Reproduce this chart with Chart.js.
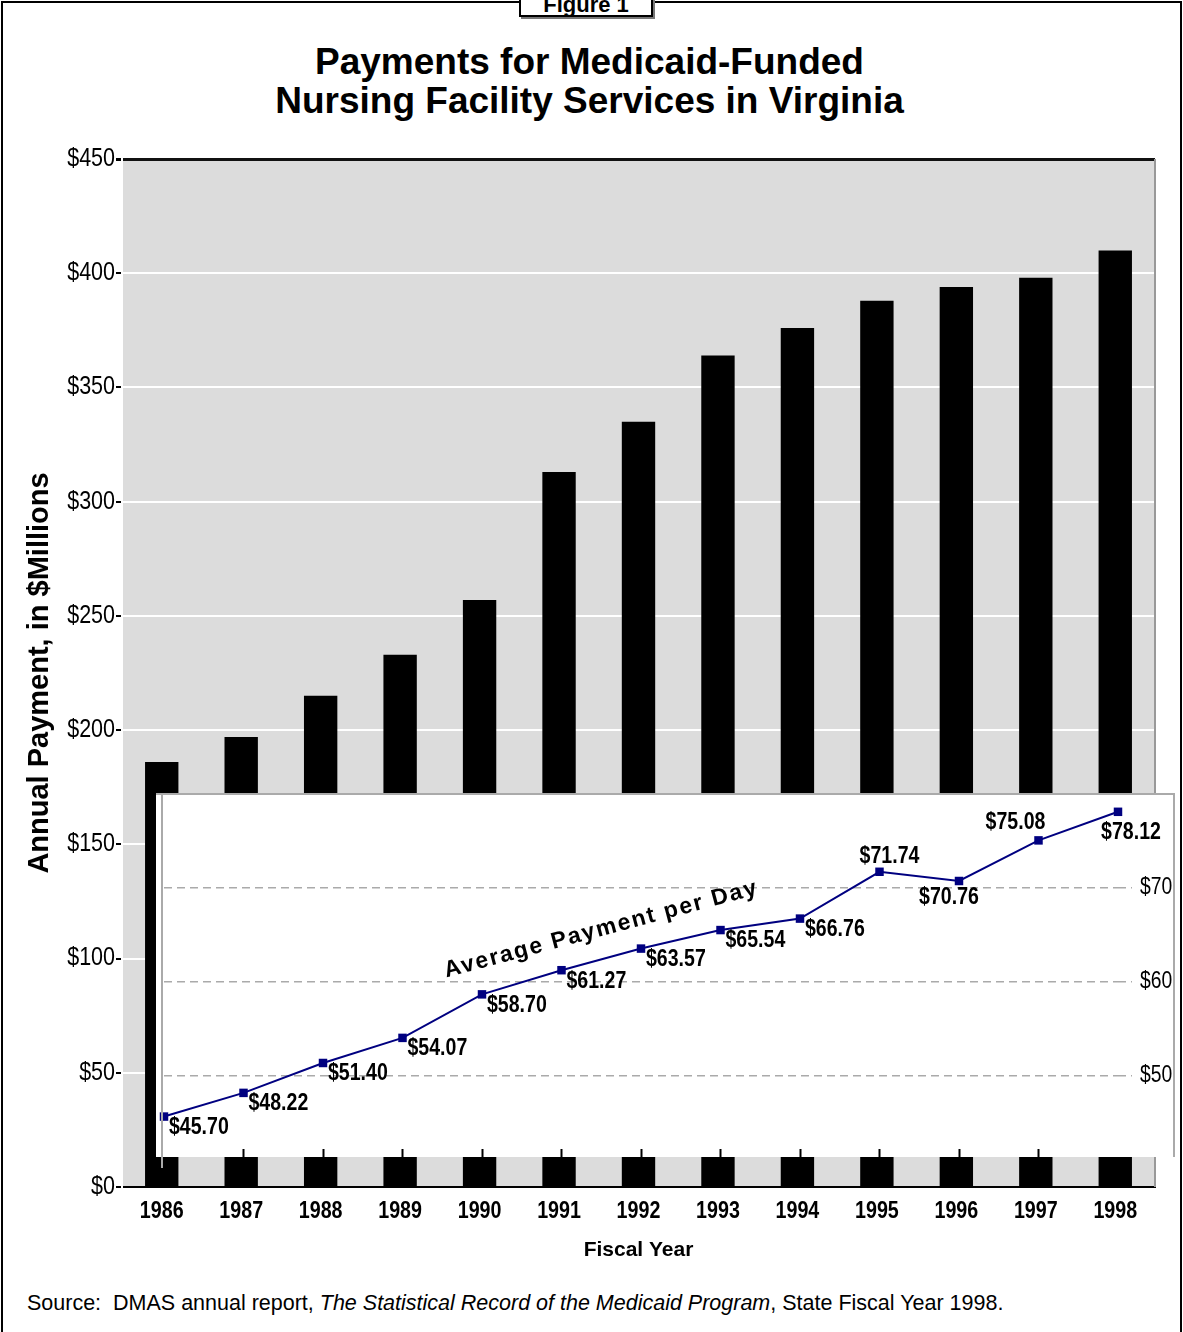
<!DOCTYPE html>
<html lang="en">
<head>
    <meta charset="UTF-8">
    <title>Payments for Medicaid-Funded Nursing Facility Services in Virginia</title>
    <style>
        body {
            margin: 0;
            width: 1183px;
            height: 1332px;
            position: relative;
            overflow: hidden;
            background: #fff;
            font-family: 'Liberation Sans', Arial, sans-serif;
        }
        #frame {
            position: absolute;
            left: 1px;
            top: 1px;
            width: 1177px;
            height: 1340px;
            border: 2px solid #000;
        }
        #figLabel {
            position: absolute;
            left: 519px;
            top: -22px;
            width: 130px;
            height: 35px;
            border: 2px solid #000;
            box-shadow: 2px 2px 0 #777;
            background: #fff;
            text-align: center;
            font-weight: bold;
            font-size: 22px;
            line-height: 50px;
        }
        #title {
            position: absolute;
            left: 0;
            top: 42px;
            width: 1179px;
            text-align: center;
            font-weight: bold;
            font-size: 37px;
            line-height: 39px;
        }
        #mainChart { position: absolute; left: 0; top: 0; }
        #inset {
            position: absolute;
            left: 156px;
            top: 793px;
            width: 1017px;
            height: 362px;
            background: #fff;
            border-top: 2px solid #aaa;
            border-right: 2px solid #aaa;
        }
        #insetAxis {
            position: absolute;
            left: 161px;
            top: 793px;
            width: 2px;
            height: 375px;
            background: #aaa;
        }
        #source {
            position: absolute;
            left: 27px;
            top: 1291px;
            font-size: 21.5px;
        }
    </style>
    <script src="https://cdn.jsdelivr.net/npm/chart.js"></script>
</head>
<body>
    <div id="frame"></div>
    <div id="figLabel">Figure 1</div>
    <div id="title">Payments for Medicaid-Funded<br>Nursing Facility Services in Virginia</div>
    <canvas id="mainChart" width="1183" height="1280"></canvas>
    <div id="inset"><canvas id="lineChart" width="1017" height="362"></canvas></div>
    <div id="insetAxis"></div>
    <div id="source">Source:&nbsp; DMAS annual report, <i>The Statistical Record of the Medicaid Program</i>, State Fiscal Year 1998.</div>

    <script>
        // chart data
        const years = ['1986', '1987', '1988', '1989', '1990', '1991', '1992',
                       '1993', '1994', '1995', '1996', '1997', '1998'];
        // annual payment, $ millions
        const annualPayment = [186, 197, 215, 233, 257, 313, 335, 364, 376, 388, 394, 398, 410];
        // average payment per day, $
        const perDayPayment = [45.70, 48.22, 51.40, 54.07, 58.70, 61.27, 63.57,
                               65.54, 66.76, 71.74, 70.76, 75.08, 78.12];
        const paymentTicks = [0, 50, 100, 150, 200, 250, 300, 350, 400, 450];
        const perDayTicks = [50, 60, 70];

        const sans = '"Liberation Sans", Arial, sans-serif';

        // no narrow font installed, so squeeze Liberation Sans horizontally
        function narrowText(ctx, txt, x, y, align, font, squeeze) {
            ctx.save();
            ctx.font = font;
            ctx.fillStyle = '#000';
            ctx.textBaseline = 'middle';
            ctx.textAlign = align;
            ctx.translate(x, y);
            ctx.scale(squeeze, 1);
            ctx.fillText(txt, 0, 0);
            ctx.restore();
        }

        // grey plot background, right edge and tick labels
        const plotFrame = {
            id: 'plotFrame',
            beforeDraw(chart) {
                const {ctx, chartArea: a} = chart;
                ctx.save();
                ctx.fillStyle = '#dcdcdc';
                ctx.fillRect(a.left, a.top, a.right - a.left, a.bottom - a.top);
                ctx.restore();
            },
            afterDraw(chart) {
                const {ctx, chartArea: a, scales} = chart;
                ctx.save();
                ctx.strokeStyle = '#999';
                ctx.lineWidth = 2;
                ctx.beginPath();
                ctx.moveTo(a.right, a.top);
                ctx.lineTo(a.right, a.bottom);
                ctx.stroke();
                ctx.restore();
                paymentTicks.forEach(v => {
                    narrowText(ctx, '$' + v, a.left - 7, scales.y.getPixelForValue(v),
                               'right', '25px ' + sans, 0.86);
                });
                years.forEach((yr, i) => {
                    narrowText(ctx, yr, scales.x.getPixelForValue(i), a.bottom + 24,
                               'center', 'bold 24px ' + sans, 0.82);
                });
            }
        };

        new Chart(document.getElementById('mainChart'), {
            type: 'bar',
            data: {
                labels: years,
                datasets: [{
                    data: annualPayment,
                    backgroundColor: '#000',
                    barPercentage: 0.42,
                    categoryPercentage: 1
                }]
            },
            options: {
                responsive: false,
                animation: false,
                events: [],
                layout: { padding: { left: 8, top: 159, right: 28, bottom: 17 } },
                plugins: { legend: { display: false }, tooltip: { enabled: false } },
                scales: {
                    x: {
                        grid: { display: false, drawTicks: false },
                        border: { color: '#000', width: 2 },
                        ticks: { display: false },
                        afterFit: (s) => { s.height = 76; s.paddingLeft = 0; s.paddingRight = 0; },
                        title: {
                            display: true,
                            text: 'Fiscal Year',
                            color: '#000',
                            padding: { top: 0, bottom: 0 },
                            font: { family: sans, size: 21, weight: 'bold' }
                        }
                    },
                    y: {
                        min: 0,
                        max: 450,
                        afterBuildTicks: (s) => { s.ticks = paymentTicks.map(v => ({ value: v })); },
                        afterFit: (s) => { s.width = 114; s.paddingTop = 0; s.paddingBottom = 0; },
                        grid: {
                            color: (c) => c.tick && c.tick.value === 450 ? '#111' : '#fff',
                            lineWidth: (c) => c.tick && c.tick.value === 450 ? 3 : 2,
                            tickColor: '#000',
                            tickLength: 6
                        },
                        border: { color: '#fff', width: 2 },
                        ticks: { display: false },
                        title: {
                            display: true,
                            text: 'Annual Payment, in $Millions',
                            color: '#000',
                            padding: { top: 15, bottom: 0 },
                            font: { family: sans, size: 29, weight: 'bold' }
                        }
                    }
                }
            },
            plugins: [plotFrame]
        });

        // value labels, right axis labels and caption for the per-day line
        const labelShift = { 9: [10, -15], 10: [-10, 17], 11: [-23, -18], 12: [13, 21] };
        const perDayLabels = {
            id: 'perDayLabels',
            afterDatasetsDraw(chart) {
                const {ctx, chartArea: a} = chart;
                const xs = chart.scales.x, ys = chart.scales.y;
                const pts = chart.getDatasetMeta(0).data;
                pts.forEach((p, i) => {
                    const txt = '$' + perDayPayment[i].toFixed(2);
                    const s = labelShift[i];
                    if (s) {
                        narrowText(ctx, txt, p.x + s[0], p.y + s[1], 'center', 'bold 23px ' + sans, 0.85);
                    } else {
                        narrowText(ctx, txt, p.x + 5, p.y + 11, 'left', 'bold 23px ' + sans, 0.85);
                    }
                });
                perDayTicks.forEach(v => {
                    narrowText(ctx, '$' + v, a.right + 22, ys.getPixelForValue(v),
                               'left', '23px ' + sans, 0.84);
                });
                // rotated caption
                ctx.save();
                ctx.translate(xs.getPixelForValue(5.5), ys.getPixelForValue(65.6));
                ctx.rotate(-15 * Math.PI / 180);
                ctx.fillStyle = '#000';
                ctx.font = 'bold 23px ' + sans;
                ctx.letterSpacing = '1.8px';
                ctx.textAlign = 'center';
                ctx.textBaseline = 'middle';
                ctx.fillText('Average Payment per Day', 0, 0);
                ctx.restore();
            }
        };

        new Chart(document.getElementById('lineChart'), {
            type: 'line',
            data: {
                labels: years,
                datasets: [{
                    data: perDayPayment,
                    borderColor: '#000080',
                    borderWidth: 2,
                    backgroundColor: '#000080',
                    pointStyle: 'rect',
                    pointRadius: 6,
                    pointBorderWidth: 0,
                    tension: 0,
                    clip: false
                }]
            },
            options: {
                responsive: false,
                animation: false,
                events: [],
                layout: { padding: { left: 8, top: 0, right: 0, bottom: 0 } },
                plugins: { legend: { display: false }, tooltip: { enabled: false } },
                scales: {
                    x: {
                        offset: false,
                        grid: {
                            drawOnChartArea: false,
                            drawTicks: true,
                            tickLength: 8,
                            tickWidth: 2,
                            tickColor: (c) => (c.index === 0 || c.index === years.length - 1) ? 'rgba(0,0,0,0)' : '#000'
                        },
                        border: { display: false },
                        ticks: { display: false }
                    },
                    y: {
                        position: 'right',
                        min: 42.25,
                        max: 79.27,
                        afterBuildTicks: (s) => { s.ticks = perDayTicks.map(v => ({ value: v })); },
                        afterFit: (s) => { s.width = 55; s.paddingTop = 0; s.paddingBottom = 0; },
                        grid: {
                            color: '#aaa',
                            lineWidth: 1.5,
                            tickBorderDash: [8, 5],
                            tickColor: '#aaa',
                            tickLength: 14
                        },
                        border: { display: false, dash: [8, 5] },
                        ticks: { display: false }
                    }
                }
            },
            plugins: [perDayLabels]
        });
    </script>
</body>
</html>
